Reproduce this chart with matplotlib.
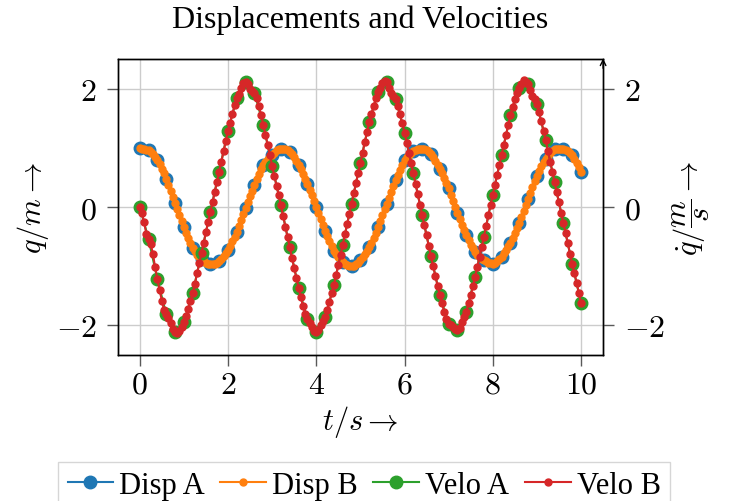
import numpy as np
import matplotlib
matplotlib.use("Agg")
from matplotlib import pyplot as plt
from matplotlib.ticker import FuncFormatter

plt.rcParams['font.family'] = ['Liberation Serif', 'DejaVu Serif']
plt.rcParams['mathtext.fontset'] = 'cm'

# coarse time grid (step 0.2) and fine grid (step 0.05)
t_coarse = np.arange(51) * 0.2
t_fine = np.arange(201) * 0.05

disp_a = [1.00, 0.96, 0.80, 0.48, 0.07, -0.34, -0.69, -0.88, -0.97, -0.92,
          -0.73, -0.42, -0.02, 0.38, 0.71, 0.88, 0.99, 0.93, 0.71, 0.39,
          0.00, -0.40, -0.74, -0.93, -1.00, -0.90, -0.68, -0.34, 0.06, 0.45,
          0.79, 0.94, 0.99, 0.89, 0.65, 0.32, -0.10, -0.48, -0.76, -0.90,
          -0.96, -0.84, -0.60, -0.27, 0.14, 0.53, 0.82, 0.98, 0.98, 0.88,
          0.59]

velo_a = [0.00, -0.54, -1.22, -1.81, -2.11, -1.95, -1.45, -0.78, -0.08, 0.60,
          1.29, 1.84, 2.12, 1.93, 1.39, 0.70, 0.03, -0.68, -1.36, -1.90,
          -2.11, -1.86, -1.32, -0.64, 0.06, 0.75, 1.44, 1.94, 2.11, 1.83,
          1.26, 0.57, -0.13, -0.83, -1.49, -1.97, -2.08, -1.77, -1.18, -0.50,
          0.21, 0.88, 1.55, 2.01, 2.08, 1.74, 1.13, 0.42, -0.27, -0.96,
          -1.62]

disp_b = [1.00, 0.99, 0.98, 0.97, 0.96, 0.93, 0.89, 0.85, 0.80, 0.73,
          0.65, 0.57, 0.48, 0.38, 0.28, 0.17, 0.07, -0.04, -0.14, -0.24,
          -0.34, -0.43, -0.52, -0.61, -0.69, -0.75, -0.81, -0.85, -0.88, -0.92,
          -0.95, -0.96, -0.97, -0.97, -0.96, -0.94, -0.92, -0.88, -0.83, -0.78,
          -0.73, -0.66, -0.58, -0.50, -0.42, -0.32, -0.22, -0.12, -0.02, 0.08,
          0.18, 0.28, 0.38, 0.47, 0.56, 0.64, 0.71, 0.76, 0.81, 0.85,
          0.88, 0.92, 0.96, 0.98, 0.99, 0.99, 0.98, 0.96, 0.93, 0.89,
          0.84, 0.78, 0.71, 0.64, 0.56, 0.48, 0.39, 0.29, 0.20, 0.10,
          0.00, -0.10, -0.20, -0.30, -0.40, -0.49, -0.58, -0.66, -0.74, -0.80,
          -0.85, -0.89, -0.93, -0.96, -0.98, -0.99, -1.00, -0.99, -0.97, -0.94,
          -0.90, -0.85, -0.80, -0.74, -0.68, -0.60, -0.52, -0.43, -0.34, -0.24,
          -0.14, -0.04, 0.06, 0.16, 0.26, 0.36, 0.45, 0.54, 0.63, 0.71,
          0.79, 0.84, 0.88, 0.91, 0.94, 0.96, 0.98, 0.99, 0.99, 0.98,
          0.96, 0.93, 0.89, 0.84, 0.78, 0.72, 0.65, 0.57, 0.49, 0.41,
          0.32, 0.21, 0.11, 0.00, -0.10, -0.20, -0.30, -0.39, -0.48, -0.56,
          -0.64, -0.70, -0.76, -0.81, -0.85, -0.88, -0.90, -0.92, -0.94, -0.95,
          -0.96, -0.94, -0.91, -0.88, -0.84, -0.78, -0.72, -0.66, -0.60, -0.52,
          -0.44, -0.36, -0.27, -0.17, -0.07, 0.04, 0.14, 0.24, 0.34, 0.44,
          0.53, 0.61, 0.69, 0.76, 0.82, 0.87, 0.92, 0.95, 0.98, 0.99,
          0.99, 0.99, 0.98, 0.96, 0.94, 0.91, 0.88, 0.82, 0.75, 0.67,
          0.59]

velo_b = [0.00, -0.10, -0.26, -0.45, -0.54, -0.62, -0.80, -1.02, -1.22, -1.40,
          -1.58, -1.74, -1.81, -1.87, -1.96, -2.06, -2.11, -2.13, -2.10, -2.02,
          -1.95, -1.85, -1.72, -1.59, -1.45, -1.30, -1.12, -0.95, -0.78, -0.60,
          -0.42, -0.25, -0.08, 0.08, 0.26, 0.43, 0.60, 0.77, 0.95, 1.12,
          1.29, 1.43, 1.58, 1.72, 1.84, 1.92, 2.02, 2.10, 2.12, 2.08,
          2.00, 1.96, 1.93, 1.85, 1.71, 1.56, 1.39, 1.22, 1.05, 0.88,
          0.70, 0.53, 0.36, 0.20, 0.03, -0.15, -0.33, -0.51, -0.68, -0.86,
          -1.03, -1.20, -1.36, -1.52, -1.68, -1.80, -1.90, -1.96, -2.03, -2.10,
          -2.11, -2.08, -2.00, -1.93, -1.86, -1.74, -1.60, -1.46, -1.32, -1.15,
          -0.98, -0.81, -0.64, -0.46, -0.29, -0.11, 0.06, 0.23, 0.40, 0.58,
          0.75, 0.92, 1.10, 1.27, 1.44, 1.58, 1.71, 1.84, 1.94, 2.02,
          2.10, 2.14, 2.11, 2.02, 1.93, 1.88, 1.83, 1.71, 1.57, 1.42,
          1.26, 1.09, 0.92, 0.74, 0.57, 0.39, 0.22, 0.04, -0.13, -0.31,
          -0.48, -0.66, -0.83, -1.00, -1.17, -1.33, -1.49, -1.63, -1.78, -1.90,
          -1.97, -2.00, -2.02, -2.06, -2.08, -2.04, -1.95, -1.86, -1.77, -1.63,
          -1.49, -1.34, -1.18, -1.01, -0.84, -0.67, -0.50, -0.32, -0.14, 0.04,
          0.21, 0.38, 0.55, 0.71, 0.88, 1.05, 1.22, 1.39, 1.55, 1.70,
          1.83, 1.93, 2.01, 2.08, 2.15, 2.12, 2.08, 1.98, 1.88, 1.82,
          1.74, 1.60, 1.45, 1.29, 1.13, 0.95, 0.77, 0.60, 0.42, 0.25,
          0.08, -0.10, -0.27, -0.44, -0.61, -0.79, -0.96, -1.12, -1.28, -1.45,
          -1.62]

fig = plt.figure(figsize=(7.4, 5.02), dpi=100)
ax = fig.add_axes([0.159, 0.291, 0.656, 0.589])
ax2 = ax.twinx()

l1, = ax.plot(t_coarse, disp_a, color='tab:blue', marker='o', ms=9, lw=1.5, label='Disp A')
l2, = ax.plot(t_fine, disp_b, color='tab:orange', marker='o', ms=5, lw=1.5, label='Disp B')
l3, = ax2.plot(t_coarse, velo_a, color='tab:green', marker='o', ms=9, lw=1.5, label='Velo A')
l4, = ax2.plot(t_fine, velo_b, color='tab:red', marker='o', ms=5, lw=1.5, label='Velo B')

math_fmt = FuncFormatter(lambda v, pos: r'$%g$' % v)
for a in (ax, ax2):
    a.set_xlim(-0.5, 10.5)
    a.set_ylim(-2.5, 2.5)
    a.set_yticks([-2, 0, 2])
    a.yaxis.set_major_formatter(math_fmt)
    a.tick_params(direction='out', length=8, width=1, color='0.35', labelsize=23)
    a.tick_params(axis='y', pad=7)
    for s in a.spines.values():
        s.set_linewidth(1.0)
        s.set_color('black')
ax.set_xticks([0, 2, 4, 6, 8, 10])
ax.xaxis.set_major_formatter(math_fmt)
ax.grid(True, color='0.8', lw=1)

ax.set_xlabel(r'$t/s \rightarrow$', fontsize=22, labelpad=2)
ax.set_ylabel(r'$q/m \rightarrow$', fontsize=22, labelpad=3)
ax2.set_ylabel(r'$\dot{q}/\dfrac{m}{s} \rightarrow$', fontsize=22, labelpad=4)
ax.set_title('Displacements and Velocities', fontsize=23, pad=23)

# arrow on top of the right axis line
ax2.annotate('', xy=(1, 1.012), xytext=(1, 0.96), xycoords='axes fraction',
             arrowprops=dict(arrowstyle='->', color='black', lw=1))

leg = fig.legend(handles=[l1, l2, l3, l4], loc='upper center', ncol=4,
                 bbox_to_anchor=(0.492, 0.078), fontsize=22, frameon=True,
                 fancybox=False, edgecolor='0.8', handlelength=1.5,
                 handletextpad=0.2, columnspacing=0.5, borderpad=0.3,
                 borderaxespad=0)

fig.savefig('out.png', dpi=100)
